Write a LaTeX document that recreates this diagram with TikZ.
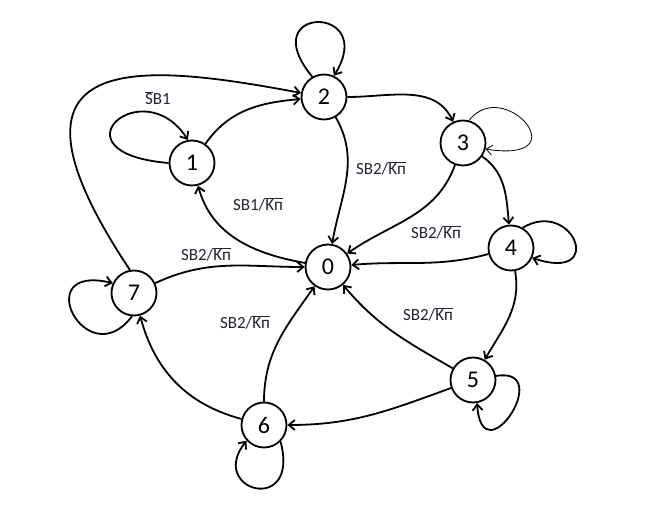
\documentclass[tikz,border=0pt]{standalone}
\usepackage{fontspec}
\setmainfont{Carlito}
\usetikzlibrary{arrows.meta,positioning}
\definecolor{labcol}{RGB}{35,35,50}
\newcommand{\knbar}{\(\overline{\mbox{Kп}}\)}

\begin{document}
\begin{tikzpicture}[x=1pt,y=1pt,
		state/.style={circle,draw,line width=1.8pt,minimum size=45pt,inner sep=0pt,font=\fontsize{24}{28}\selectfont},
		lab/.style={text=labcol,font=\fontsize{17}{20}\selectfont,inner sep=1pt},
		tr/.style={line width=1.8pt,-{Straight Barb[length=6pt,width=10pt]}}]
		\useasboundingbox (0,0) rectangle (648,515);
		\node[state] (s0) at (328,248) {0};
		\node[state] (s1) at (192,352) {1};
		\node[state] (s2) at (324,418) {2};
		\node[state] (s3) at (463,372) {3};
		\node[state] (s4) at (511,267) {4};
		\node[state] (s5) at (473,135) {5};
		\node[state] (s6) at (264,90) {6};
		\node[state] (s7) at (134,222) {7};
		
		\node[lab] (l11) at (158,417) {\(\overline{\mbox{S}}\)B1};
		\node[lab] (l01) at (258,311) {SB1/\knbar};
		\node[lab] (l20) at (381,347) {SB2/\knbar};
		\node[lab] (l30) at (436,283) {SB2/\knbar};
		\node[lab] (l50) at (428,201) {SB2/\knbar};
		\node[lab] (l60) at (245,193) {SB2/\knbar};
		\node[lab] (l70) at (206,261) {SB2/\knbar};
		
		% loops
		\draw[tr] (s1.180) .. controls +(-120,10) and +(-45,70) .. (s1.100);
		\draw[tr] (s2.120) .. controls +(-60,72) and +(45,72) .. (s2.65);
		\draw[tr,line width=0.8pt] (s3.75) .. controls +(35,45) and +(95,-15) .. (s3.-15);
		\draw[tr] (s4.60) .. controls +(50,30) and +(75,-25) .. (s4.-25);
		\draw[tr] (s5.10) .. controls +(60,10) and +(5,-75) .. (s5.-80);
		\draw[tr] (s6.-45) .. controls +(20,-75) and +(-40,-50) .. (s6.-138);
		\draw[tr] (s7.-95) .. controls +(-45,-60) and +(-85,20) .. (s7.155);
		
		% transitions
		\draw[tr] (s1) to[out=55,in=185] (s2);
		\draw[tr] (s7.100) .. controls +(-150,225) and +(-160,30) .. (s2.170);
		\draw[tr] (s2) to[out=0,in=115] (s3);
		\draw[tr] (s2) to[out=-60,in=80] (s0);
		\draw[tr] (s3) to[out=-110,in=35] (s0);
		\draw[tr] (s3) to[out=-35,in=95] (s4);
		\draw[tr] (s4) to[out=195,in=5] (s0);
		\draw[tr] (s4) to[out=-80,in=60] (s5);
		\draw[tr] (s5) to[out=150,in=-50] (s0);
		\draw[tr] (s5) to[out=200,in=0] (s6);
		\draw[tr] (s6) to[out=90,in=-125] (s0);
		\draw[tr] (s6) to[out=165,in=-75] (s7);
		\draw[tr] (s7) to[out=25,in=180] (s0);
		\draw[tr] (s0) to[out=170,in=-75] (s1);
\end{tikzpicture}
\end{document}
